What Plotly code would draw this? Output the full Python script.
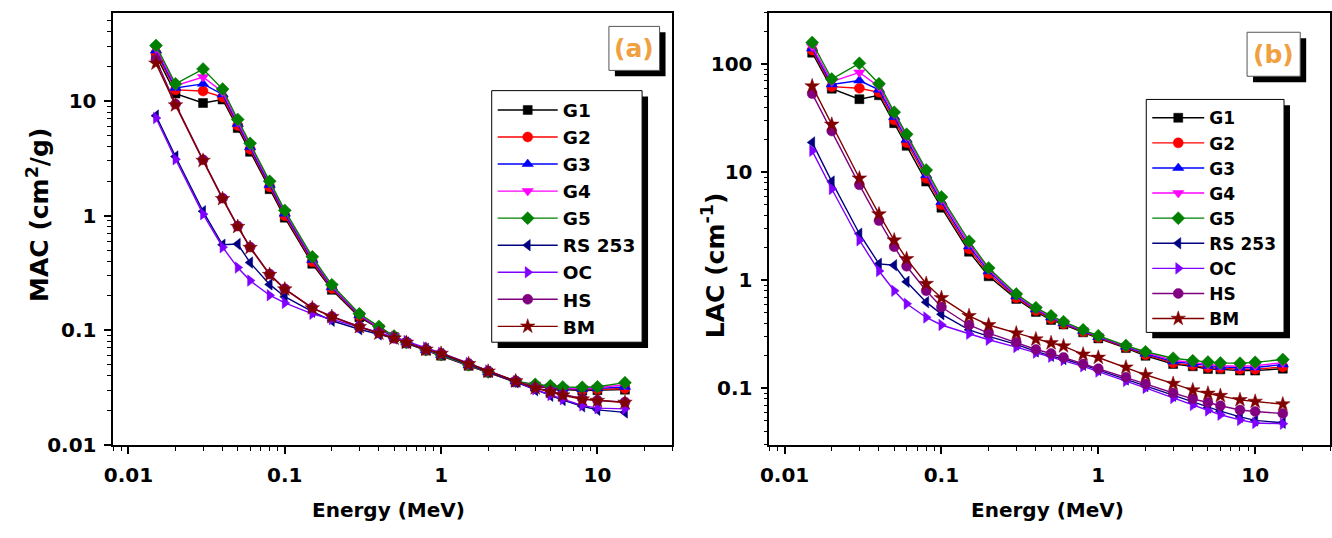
import plotly.graph_objects as go

# Photon energies (MeV)
energy = [0.015, 0.02, 0.03, 0.04, 0.05, 0.06, 0.08, 0.1, 0.15, 0.2, 0.3, 0.4,
          0.5, 0.6, 0.8, 1, 1.5, 2, 3, 4, 5, 6, 8, 10, 15]

series_names = ["G1", "G2", "G3", "G4", "G5", "RS 253", "OC", "HS", "BM"]

# Mass attenuation coefficients, MAC (cm2/g)
mac_g1 = [25.0, 11.6, 9.6, 10.3, 5.8, 3.6, 1.70, 0.96, 0.380, 0.225, 0.130, 0.103,
          0.087, 0.077, 0.0665, 0.0600, 0.0490, 0.0428, 0.0352, 0.0322, 0.0310, 0.0304, 0.0298, 0.0300, 0.0303]
mac_g2 = [26.2, 12.5, 12.2, 10.8, 6.1, 3.8, 1.78, 1.00, 0.395, 0.231, 0.133, 0.104,
          0.088, 0.078, 0.0668, 0.0604, 0.0492, 0.0429, 0.0354, 0.0326, 0.0314, 0.0307, 0.0302, 0.0305, 0.0310]
mac_g3 = [27.5, 13.0, 14.1, 11.4, 6.3, 3.95, 1.85, 1.04, 0.410, 0.237, 0.135, 0.105,
          0.088, 0.078, 0.0670, 0.0608, 0.0494, 0.0430, 0.0357, 0.0330, 0.0318, 0.0310, 0.0306, 0.0310, 0.0320]
mac_g4 = [28.8, 13.6, 16.2, 12.0, 6.6, 4.1, 1.92, 1.08, 0.425, 0.243, 0.137, 0.106,
          0.089, 0.079, 0.0672, 0.0611, 0.0496, 0.0431, 0.0359, 0.0334, 0.0322, 0.0314, 0.0311, 0.0315, 0.0334]
mac_g5 = [30.5, 14.1, 19.0, 12.7, 6.9, 4.27, 1.99, 1.11, 0.437, 0.249, 0.139, 0.108,
          0.089, 0.078, 0.0675, 0.0612, 0.0499, 0.0432, 0.0360, 0.0337, 0.0328, 0.0320, 0.0318, 0.0321, 0.0349]
mac_rs253 = [7.45, 3.28, 1.09, 0.557, 0.565, 0.389, 0.251, 0.196, 0.145, 0.121, 0.102, 0.092,
             0.085, 0.078, 0.0688, 0.0618, 0.0503, 0.0433, 0.0352, 0.0300, 0.0268, 0.0246, 0.0217, 0.0202, 0.0192]
mac_oc = [7.1, 3.1, 1.03, 0.53, 0.352, 0.271, 0.202, 0.173, 0.139, 0.125, 0.107, 0.0955,
          0.087, 0.0804, 0.0706, 0.0635, 0.0517, 0.0445, 0.0358, 0.0305, 0.0272, 0.0250, 0.0221, 0.0209, 0.0206]
mac_hs = [23.0, 9.4, 3.07, 1.42, 0.81, 0.532, 0.309, 0.230, 0.157, 0.132, 0.108, 0.095,
          0.085, 0.078, 0.068, 0.0628, 0.0509, 0.0438, 0.0360, 0.0315, 0.0293, 0.0274, 0.0253, 0.0245, 0.0236]
mac_bm = [21.3, 9.2, 3.02, 1.40, 0.80, 0.525, 0.305, 0.228, 0.156, 0.131, 0.107, 0.094,
          0.085, 0.078, 0.068, 0.0626, 0.0508, 0.0437, 0.0360, 0.0313, 0.0290, 0.0271, 0.0250, 0.0243, 0.0234]

# Linear attenuation coefficients, LAC (1/cm)
lac_g1 = [128, 59.4, 47.5, 51.6, 28.5, 17.6, 8.2, 4.7, 1.84, 1.09, 0.673, 0.51,
          0.43, 0.39, 0.33, 0.29, 0.236, 0.200, 0.168, 0.160, 0.151, 0.150, 0.146, 0.146, 0.152]
lac_g2 = [135, 62, 60, 55, 30.5, 18.8, 8.8, 5.0, 1.95, 1.15, 0.690, 0.525,
          0.44, 0.395, 0.335, 0.295, 0.240, 0.205, 0.172, 0.164, 0.156, 0.154, 0.150, 0.150, 0.158]
lac_g3 = [140, 65, 70.7, 58, 32.5, 20.0, 9.4, 5.3, 2.06, 1.21, 0.710, 0.537,
          0.452, 0.400, 0.340, 0.299, 0.243, 0.209, 0.177, 0.168, 0.161, 0.158, 0.155, 0.156, 0.166]
lac_g4 = [146, 69, 84, 62, 34.5, 21.3, 9.9, 5.6, 2.18, 1.26, 0.728, 0.548,
          0.460, 0.407, 0.344, 0.303, 0.246, 0.214, 0.182, 0.173, 0.165, 0.162, 0.160, 0.162, 0.173]
lac_g5 = [159, 73, 102, 66, 36.0, 22.5, 10.5, 5.9, 2.30, 1.30, 0.747, 0.558,
          0.469, 0.414, 0.348, 0.307, 0.249, 0.218, 0.190, 0.180, 0.175, 0.172, 0.171, 0.174, 0.185]
lac_rs253 = [18.9, 8.2, 2.7, 1.42, 1.38, 0.97, 0.628, 0.486, 0.348, 0.303, 0.255, 0.220,
             0.200, 0.187, 0.165, 0.148, 0.121, 0.105, 0.0855, 0.0745, 0.0665, 0.0615, 0.0545, 0.0505, 0.0480]
lac_oc = [15.8, 7.0, 2.35, 1.22, 0.80, 0.607, 0.453, 0.386, 0.320, 0.282, 0.241, 0.214,
          0.196, 0.183, 0.160, 0.143, 0.117, 0.101, 0.0815, 0.0700, 0.0625, 0.0570, 0.0510, 0.0478, 0.0470]
lac_hs = [53.5, 24.1, 7.65, 3.57, 2.05, 1.35, 0.80, 0.566, 0.386, 0.325, 0.267, 0.229,
          0.210, 0.193, 0.168, 0.152, 0.127, 0.110, 0.0905, 0.0800, 0.0740, 0.0690, 0.0630, 0.0610, 0.0585]
lac_bm = [62.8, 27.7, 8.8, 4.1, 2.35, 1.58, 0.93, 0.687, 0.469, 0.386, 0.324, 0.285,
          0.263, 0.246, 0.2065, 0.193, 0.1565, 0.1335, 0.1105, 0.0963, 0.0897, 0.0855, 0.0782, 0.0755, 0.0714]

mac_series = [mac_g1, mac_g2, mac_g3, mac_g4, mac_g5, mac_rs253, mac_oc, mac_hs, mac_bm]
lac_series = [lac_g1, lac_g2, lac_g3, lac_g4, lac_g5, lac_rs253, lac_oc, lac_hs, lac_bm]

colors = ["#000000", "#FF0000", "#0000FF", "#FF00FF", "#008000",
          "#000080", "#8000FF", "#800080", "#800000"]
symbols = ["square", "circle", "triangle-up", "triangle-down", "diamond",
           "triangle-left", "triangle-right", "circle", "star"]
msizes = [9, 10, 10, 10, 10, 10, 10, 10, 11]

W, H = 1332, 538


def px(x):
    return x / W


def py(y):
    return 1 - y / H


FONT = "DejaVu Sans, Verdana, sans-serif"

fig = go.Figure()

for data, xa, ya, leg in [(mac_series, "x", "y", "legend"),
                          (lac_series, "x2", "y2", "legend2")]:
    for name, vals, c, s, ms in zip(series_names, data, colors, symbols, msizes):
        fig.add_trace(go.Scatter(
            x=energy, y=vals, name=name, mode="lines+markers",
            xaxis=xa, yaxis=ya, legend=leg,
            line=dict(color=c, width=1.4),
            marker=dict(symbol=s, size=ms, color=c, line=dict(color=c, width=0.5)),
        ))


def minor_vals(lo, hi):
    out = []
    for d in range(-4, 4):
        for m in range(2, 10):
            v = m * 10 ** d
            if lo * 0.999 <= v <= hi * 1.001:
                out.append(round(v, 6))
    return out


tickfont = dict(family=FONT, size=20, color="black", weight="bold")

common_x = dict(type="log", range=[-2.097, 1.477], showline=True, linecolor="black",
                linewidth=1.6, mirror=True, ticks="outside", ticklen=7, tickwidth=1.5,
                tickcolor="black", showgrid=False, zeroline=False,
                tickvals=[0.01, 0.1, 1, 10], ticktext=["0.01", "0.1", "1", "10"],
                tickfont=tickfont, ticklabelstandoff=4,
                minor=dict(tickvals=minor_vals(0.008, 30), ticks="outside", ticklen=4,
                           tickwidth=1.2, tickcolor="black", showgrid=False))

common_y = dict(type="log", showline=True, linecolor="black", linewidth=1.6, mirror=True,
                ticks="outside", ticklen=7, tickwidth=1.5, tickcolor="black",
                showgrid=False, zeroline=False, tickfont=tickfont, ticklabelstandoff=4)

y_dom = [py(455), py(13)]

leg_common = dict(xanchor="left", yanchor="top", bgcolor="rgba(0,0,0,0)",
                  borderwidth=0, tracegroupgap=0)

fig.update_layout(
    width=W, height=H,
    margin=dict(l=0, r=0, t=0, b=0),
    paper_bgcolor="white", plot_bgcolor="white",
    xaxis=dict(common_x, domain=[px(105), px(667.5)], anchor="y"),
    xaxis2=dict(common_x, domain=[px(765.5), px(1330)], anchor="y2"),
    yaxis=dict(common_y, range=[-2, 1.77], domain=y_dom, anchor="x",
               tickvals=[0.01, 0.1, 1, 10], ticktext=["0.01", "0.1", "1", "10"],
               minor=dict(tickvals=minor_vals(0.01, 58), ticks="outside", ticklen=4,
                          tickwidth=1.2, tickcolor="black", showgrid=False)),
    yaxis2=dict(common_y, range=[-1.523, 2.477], domain=y_dom, anchor="x2",
                tickvals=[0.1, 1, 10, 100], ticktext=["0.1", "1", "10", "100"],
                minor=dict(tickvals=minor_vals(0.03, 300), ticks="outside", ticklen=4,
                           tickwidth=1.2, tickcolor="black", showgrid=False)),
    legend=dict(leg_common, x=px(487), y=py(93.5),
                font=dict(family=FONT, size=18.5, color="black", weight="bold"),
                itemwidth=60),
    legend2=dict(leg_common, x=px(1146), y=py(102.5),
                 font=dict(family=FONT, size=17, color="black", weight="bold"),
                 itemwidth=52),
    showlegend=True,
)

# framed boxes with drop shadows: legend frames and panel tags
boxes = [(486, 92.7, 637.4, 350), (1145, 101.7, 1283.7, 340),
         (604, 27, 655, 72), (1246.5, 33, 1300, 78)]
for i, (x0, y0, x1, y1) in enumerate(boxes):
    fig.add_shape(type="rect", xref="paper", yref="paper",
                  x0=px(x0 + 6), x1=px(x1 + 6), y0=py(y0 + 6), y1=py(y1 + 6),
                  fillcolor="black", line=dict(width=0), layer="above")
    fig.add_shape(type="rect", xref="paper", yref="paper",
                  x0=px(x0), x1=px(x1), y0=py(y0), y1=py(y1),
                  fillcolor="white",
                  line=dict(color="black" if i < 2 else "#555555", width=1),
                  layer="above")

# panel tags
for label, cx, cy in [("(a)", 629.5, 49.5), ("(b)", 1273.2, 55.5)]:
    fig.add_annotation(text="<b>%s</b>" % label, xref="paper", yref="paper",
                       x=px(cx), y=py(cy), xanchor="center", yanchor="middle",
                       showarrow=False,
                       font=dict(family=FONT, size=25, color="#F0A040"))

# axis titles
title_font = dict(family=FONT, size=20, color="black")
for cx in (382, 1046):
    fig.add_annotation(text="<b>Energy (MeV)</b>", xref="paper", yref="paper",
                       x=px(cx), y=py(522), xanchor="center", yanchor="middle",
                       showarrow=False, font=title_font)
fig.add_annotation(text="<b>MAC (cm<sup>2</sup>/g)</b>", xref="paper", yref="paper",
                   x=px(29), y=py(220), xanchor="center", yanchor="middle",
                   textangle=-90, showarrow=False,
                   font=dict(family=FONT, size=25, color="black"))
fig.add_annotation(text="<b>LAC (cm<sup>-1</sup>)</b>", xref="paper", yref="paper",
                   x=px(710), y=py(271), xanchor="center", yanchor="middle",
                   textangle=-90, showarrow=False,
                   font=dict(family=FONT, size=25, color="black"))

fig.write_html("out.html")
